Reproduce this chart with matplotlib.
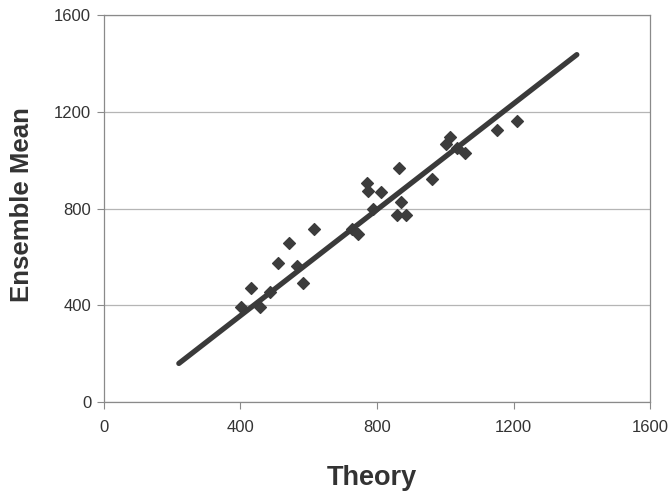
import matplotlib
matplotlib.use("Agg")
import matplotlib.pyplot as plt

plt.rcParams["font.family"] = ["Liberation Sans", "DejaVu Sans"]

# ensemble mean vs theory
theory = [402, 457, 431, 487, 510, 584, 566, 542, 616, 727, 745,
          772, 774, 812, 789, 865, 871, 859, 886, 962,
          1015, 1003, 1059, 1033, 1150, 1211]
ensemble = [392, 392, 474, 454, 577, 494, 561, 660, 718, 718, 697,
            907, 874, 870, 800, 969, 829, 775, 775, 924,
            1097, 1066, 1031, 1050, 1126, 1163]

# fitted line end points
fit_x = [220, 1385]
fit_y = [160, 1437]

ticks = [0, 400, 800, 1200, 1600]

fig = plt.figure(figsize=(6.69, 4.91), dpi=100)
ax = fig.add_axes([0.155, 0.181, 0.817, 0.788])

ax.scatter(theory, ensemble, marker="D", s=36, color="#3c3c3c", zorder=3)
ax.plot(fit_x, fit_y, color="#3a3a3a", lw=3.8, solid_capstyle="round", zorder=4)

ax.set_xlim(0, 1600)
ax.set_ylim(0, 1600)
ax.set_xticks(ticks)
ax.set_yticks(ticks)
ax.yaxis.grid(True, color="#b5b5b5", lw=0.9)
ax.set_axisbelow(True)

for s in ax.spines.values():
    s.set_color("#8a8a8a")
    s.set_linewidth(0.9)

ax.tick_params(axis="both", direction="out", length=5, width=0.8,
               color="#8a8a8a", labelsize=12, labelcolor="#333333")
ax.tick_params(axis="x", pad=8)
ax.tick_params(axis="y", pad=4)

ax.set_xlabel("Theory", fontsize=19.5, fontweight="bold", color="#333333")
ax.set_ylabel("Ensemble Mean", fontsize=18.5, fontweight="bold", color="#333333")
ax.xaxis.set_label_coords(0.49, -0.163)
ax.yaxis.set_label_coords(-0.128, 0.51)

plt.savefig("out.png", dpi=100)
plt.close("all")
